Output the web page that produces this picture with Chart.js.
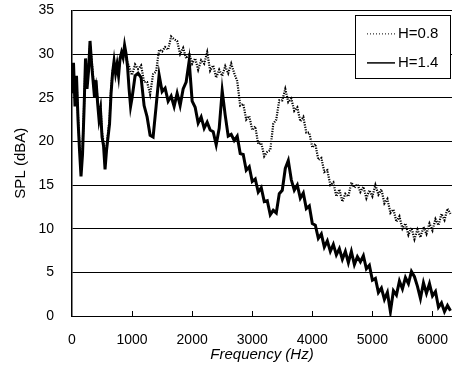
<!DOCTYPE html>
<html>
<head>
<meta charset="utf-8">
<script src="https://cdn.jsdelivr.net/npm/chart.js@4.4.1/dist/chart.umd.min.js"></script>
<style>
  html, body { margin: 0; padding: 0; background: #fff; }
  #wrap { width: 452px; height: 372px; }
</style>
</head>
<body>
<div id="wrap"><canvas id="spl"></canvas></div>
<script>
// frequency grid (Hz): 25 Hz steps up to 1000, then 50 Hz steps
const freqHz = [
    0, 25, 50, 75, 100, 125, 150, 175, 200, 225,
    250, 275, 300, 325, 350, 375, 400, 425, 450, 475,
    500, 525, 550, 575, 600, 625, 650, 675, 700, 725,
    750, 775, 800, 825, 850, 875, 900, 925, 950, 975,
    1000,
    1050, 1100, 1150, 1200, 1250, 1300, 1350, 1400, 1450, 1500,
    1550, 1600, 1650, 1700, 1750, 1800, 1850, 1900, 1950, 2000,
    2050, 2100, 2150, 2200, 2250, 2300, 2350, 2400, 2450, 2500,
    2550, 2600, 2650, 2700, 2750, 2800, 2850, 2900, 2950, 3000,
    3050, 3100, 3150, 3200, 3250, 3300, 3350, 3400, 3450, 3500,
    3550, 3600, 3650, 3700, 3750, 3800, 3850, 3900, 3950, 4000,
    4050, 4100, 4150, 4200, 4250, 4300, 4350, 4400, 4450, 4500,
    4550, 4600, 4650, 4700, 4750, 4800, 4850, 4900, 4950, 5000,
    5050, 5100, 5150, 5200, 5250, 5300, 5350, 5400, 5450, 5500,
    5550, 5600, 5650, 5700, 5750, 5800, 5850, 5900, 5950, 6000,
    6050, 6100, 6150, 6200, 6250, 6300
];

// SPL (dBA), H=0.8
const splH08 = [
    26.5, 28.5, 25, 27, 23, 19.5, 16.8, 19, 24, 29,
    27, 28.5, 31, 29.5, 27.5, 25.5, 26.5, 25, 23, 24,
    21, 20, 17.5, 19.5, 21, 22.5, 26, 28, 29, 28.3,
    29, 28, 29.3, 30, 30.5, 30.3, 29.5, 29, 28.6, 28,
    27.6,
    28.8, 28.3, 28.7, 26.8, 26.8, 25.4, 27.7, 28, 30.5, 30.3,
    30.8, 30.5, 32, 31.7, 31.5, 30, 30.7, 29.5, 30.1, 28.9,
    29.5, 28.2, 29.3, 28.9, 30.2, 28.1, 28.7, 27.3, 28.2, 27.5,
    28.6, 27.8, 28.9, 27.8, 26.9, 24.1, 24.3, 22.5, 22.9, 21.3,
    21.7, 19.7, 19.8, 18.3, 18.8, 19, 22, 22.5, 24.7, 24.7,
    26, 24.5, 24.9, 23.5, 23.9, 22.3, 22.8, 21, 21, 19.3,
    19.7, 17.9, 18.1, 16.5, 16.7, 15, 15.3, 13.7, 14.5, 13.1,
    14, 13.7, 15.3, 14.7, 15.1, 14.2, 14.8, 13.5, 14.4, 13.7,
    15, 13.9, 14.5, 12.9, 13.4, 11.8, 12.2, 10.8, 11.4, 10,
    10.6, 9.3, 10.1, 8.8, 9.9, 9, 10.2, 9.4, 10.6, 9.8,
    11.1, 10.4, 11.7, 11, 12.3, 11.7
];

// SPL (dBA), H=1.4
const splH14 = [
    25.5, 29, 24, 27.5, 22.5, 19, 16, 18.5, 23.5, 29.5,
    26, 28, 31.5, 29, 27, 25, 27, 24.5, 22.5, 23.5,
    20.5, 19.5, 16.8, 19, 20.5, 22, 25.5, 27.8, 29.2, 27.8,
    28.8, 27.5, 29.5, 30.2, 29.6, 31, 30, 28.5, 26, 24,
    25,
    27.5, 27.8, 27.3, 24.1, 22.8, 20.7, 20.5, 24, 27.6, 25.7,
    26.1, 24.6, 25.2, 24, 25.5, 24.1, 26, 26.8, 29.2, 24.6,
    23.9, 22.1, 22.8, 21.5, 22.2, 21.3, 21.1, 19.6, 21.5, 25.8,
    23, 20.6, 20.8, 20.1, 20.6, 18.6, 18.5, 16.7, 17.1, 15.4,
    15.7, 14.2, 14.7, 13.1, 13.2, 11.6, 12.1, 11.8, 14, 14.4,
    16.9, 17.8, 15.6, 14.4, 15, 13.5, 14.1, 12.3, 12.6, 10.6,
    10.4, 8.9, 9.4, 7.9, 8.6, 7.4, 8.2, 7, 7.7, 6.5,
    7.4, 6.1, 7.4, 5.9, 6.8, 6.2, 6.9, 5.4, 5.8, 4.1,
    4.3, 2.7, 3.2, 1.9, 2.7, 0.5, 2.9, 2.4, 4, 3.1,
    4.4, 3.7, 5.1, 4.5, 3.4, 2, 3.8, 2.6, 3.7, 2.3,
    2.8, 1, 1.5, 0.5, 1.2, 0.6
];

const seriesLabels = ["H=0.8", "H=1.4"];
const xTicks = [0, 1000, 2000, 3000, 4000, 5000, 6000];
const yTicks = [0, 5, 10, 15, 20, 25, 30, 35];

const fontFamily = "'Liberation Sans', Arial, sans-serif";

function toPoints(values) {
    return values.map((v, i) => ({ x: freqHz[i], y: v }));
}

// little tick marks pointing up into the plot on the frequency axis
const innerTicks = {
    id: "innerTicks",
    afterDatasetsDraw(chart) {
        const ctx = chart.ctx;
        const x = chart.scales.x;
        const bottom = chart.chartArea.bottom;
        ctx.save();
        ctx.strokeStyle = "#000";
        ctx.lineWidth = 1;
        xTicks.forEach(t => {
            if (t === 0) return;
            const px = Math.round(x.getPixelForValue(t)) + 0.5;
            ctx.beginPath();
            ctx.moveTo(px, bottom);
            ctx.lineTo(px, bottom - 5);
            ctx.stroke();
        });
        ctx.restore();
    }
};

// boxed legend sitting inside the top right corner of the plot
const boxLegend = {
    id: "boxLegend",
    afterDraw(chart) {
        const ctx = chart.ctx;
        const area = chart.chartArea;
        const w = 95, h = 63;
        const left = area.right - w - 2;
        const top = area.top + 4.5;
        ctx.save();
        ctx.fillStyle = "#fff";
        ctx.fillRect(left, top, w, h);
        ctx.strokeStyle = "#000";
        ctx.lineWidth = 1;
        ctx.strokeRect(Math.round(left) + 0.5, Math.round(top) + 0.5, w, h);
        ctx.font = "15px " + fontFamily;
        ctx.textBaseline = "middle";
        ctx.fillStyle = "#000";
        chart.data.datasets.forEach((ds, i) => {
            const y = top + 19 + i * 29;
            ctx.beginPath();
            ctx.setLineDash(i === 0 ? [1, 2] : []);
            ctx.lineWidth = i === 0 ? 1 : 1.5;
            ctx.moveTo(left + 12, y);
            ctx.lineTo(left + 40, y);
            ctx.stroke();
            ctx.setLineDash([]);
            ctx.fillText(ds.label, left + 43, y);
        });
        ctx.restore();
    }
};

new Chart(document.getElementById("spl"), {
    type: "line",
    data: {
        datasets: [
            {
                label: seriesLabels[0],
                data: toPoints(splH08),
                borderColor: "#000",
                borderWidth: 2.2,
                borderDash: [1.2, 1.3],
                pointRadius: 0,
                tension: 0
            },
            {
                label: seriesLabels[1],
                data: toPoints(splH14),
                borderColor: "#000",
                borderWidth: 3,
                pointRadius: 0,
                tension: 0
            }
        ]
    },
    options: {
        responsive: true,
        maintainAspectRatio: false,
        animation: false,
        layout: { padding: 0 },
        plugins: {
            legend: { display: false },
            tooltip: { enabled: false }
        },
        scales: {
            x: {
                type: "linear",
                min: 0,
                max: 6325,
                afterFit: s => { s.height = 56; },
                afterBuildTicks: s => { s.ticks = xTicks.map(v => ({ value: v })); },
                grid: { display: false, drawTicks: true, tickLength: 16 },
                border: { display: true, color: "#000", width: 1 },
                ticks: {
                    color: "#000",
                    padding: 0,
                    maxRotation: 0,
                    callback: v => String(v),
                    font: { family: fontFamily, size: 14 }
                },
                title: {
                    display: true,
                    text: "Frequency (Hz)",
                    color: "#000",
                    padding: { bottom: 8 },
                    font: { family: fontFamily, size: 15, style: "italic" }
                }
            },
            y: {
                min: 0,
                max: 35,
                afterFit: s => { s.width = 72; },
                afterBuildTicks: s => { s.ticks = yTicks.map(v => ({ value: v })); },
                grid: {
                    color: "#000",
                    lineWidth: 1,
                    drawTicks: true,
                    tickLength: 16,
                    tickColor: "rgba(0,0,0,0)"
                },
                border: { display: true, color: "#000", width: 1.5 },
                ticks: {
                    color: "#000",
                    padding: 2,
                    callback: v => String(v),
                    font: { family: fontFamily, size: 14 }
                },
                title: {
                    display: true,
                    text: "SPL (dBA)",
                    color: "#000",
                    padding: { top: 12 },
                    font: { family: fontFamily, size: 15 }
                }
            }
        }
    },
    plugins: [innerTicks, boxLegend]
});
</script>
</body>
</html>
